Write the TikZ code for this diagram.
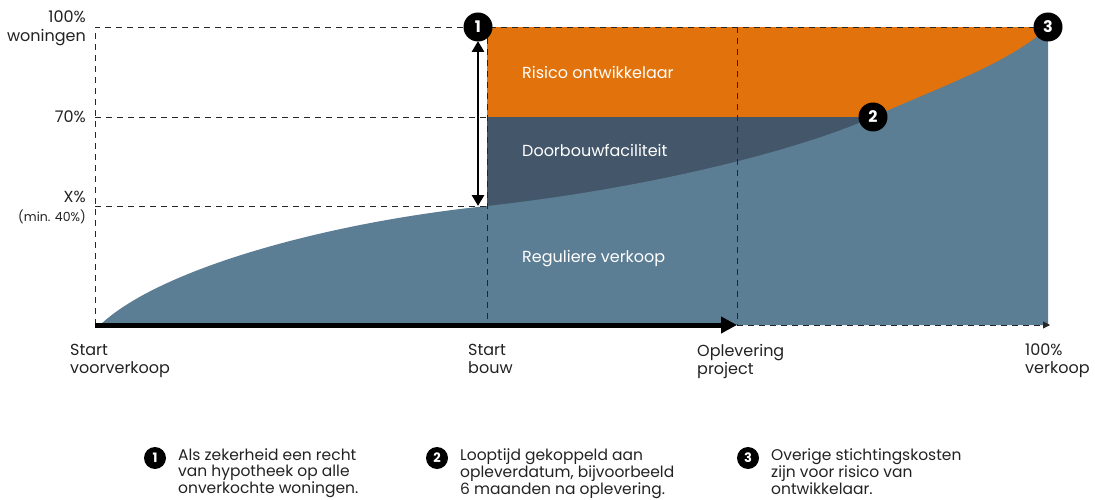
\documentclass[tikz,border=0pt]{standalone}
\usepackage{fontspec}
\setmainfont{Poppins}
\usetikzlibrary{arrows.meta}
\definecolor{orangeR}{HTML}{E2720B}
\definecolor{darkD}{HTML}{44576A}
\definecolor{blueB}{HTML}{5C7E95}
\definecolor{txt}{HTML}{222222}
\begin{document}
\begin{tikzpicture}[x=1pt,y=-1pt,
  guide/.style={draw=black!85, dash pattern=on 6pt off 5pt, line width=0.9pt},
  marker/.style={circle, fill=black, inner sep=0pt, minimum size=29pt, text=white, font=\fontsize{16}{16}\selectfont\bfseries},
  lmarker/.style={circle, fill=black, inner sep=0pt, minimum size=22pt, text=white, font=\fontsize{13}{13}\selectfont\bfseries},
  axlabel/.style={anchor=north west, align=left, inner sep=0pt, text=txt, font=\fontsize{16}{18}\selectfont},
  ylabel/.style={anchor=east, align=right, inner sep=0pt, text=txt, font=\fontsize{16}{19}\selectfont},
  area/.style={text=white, anchor=west, inner sep=0pt, font=\fontsize{16}{16}\selectfont},
  legend/.style={anchor=north west, align=left, inner sep=0pt, text=txt, font=\fontsize{15.5}{15.5}\selectfont}
]
\useasboundingbox (0,0) rectangle (1095,500);
% fills
\fill[orangeR] (487,27) rectangle (1048,200);
\fill[darkD] (487,117) rectangle (873,325);
\fill[blueB] (100,325) .. controls (160,268) and (330,222) .. (487,206)
  .. controls (650,188) and (800,150) .. (873,117)
  .. controls (940,87) and (1012,62) .. (1048,27) -- (1048,325) -- cycle;
% guides
\coordinate (tl) at (95,27);
\coordinate (bl) at (95,325);
\coordinate (t3) at (1048,27);
\draw[guide] (bl) -- (tl) -- (t3);
\draw[guide] (95,117) -- (487,117);
\draw[guide] (95,206) -- (487,206);
\draw[guide] (487,27) -- (487,325);
\draw[guide] (737,27) -- (737,325);
% axis
\coordinate (ax0) at (95,325);
\coordinate (ax1) at (737,325);
\coordinate (ax2) at (1050,325);
\draw[line width=5pt, -{Triangle[length=16pt,width=16pt]}] (ax0) -- (ax1);
\draw[guide, -{Triangle[length=7pt,width=7pt]}, dash pattern=on 6pt off 5pt] (ax1) -- (ax2);
% double arrow
\coordinate (da1) at (478,41);
\coordinate (da2) at (478,206);
\draw[line width=2.8pt, {Triangle[length=11pt,width=12pt]}-{Triangle[length=11pt,width=12pt]}] (da1) -- (da2);
% markers
\node[marker] (m1) at (478,27) {1};
\node[marker] (m2) at (873,117) {2};
\node[marker] (m3) at (1048,27) {3};
% area labels
\node[area] (ra) at (522,72) {Risico ontwikkelaar};
\node[area] (db) at (522,150) {Doorbouwfaciliteit};
\node[area] (rv) at (522,259) {Reguliere verkoop};
% y labels
\node[ylabel] (y100) at (86,28) {100\%\\woningen};
\node[ylabel] (y70) at (86,117) {70\%};
\node[ylabel] (yx) at (86,207) {X\%\\{\fontsize{12.5}{14}\selectfont (min. 40\%)}};
% x labels
\node[axlabel] (x1) at (70,344) {Start\\voorverkoop};
\node[axlabel] (x2) at (468,344) {Start\\bouw};
\node[axlabel] (x3) at (697,344) {Oplevering\\project};
\node[axlabel] (x4) at (1025,344) {100\%\\verkoop};
% legend
\node[lmarker] (l1) at (155,458) {1};
\node[legend] (t1) at (178,449) {Als zekerheid een recht\\van hypotheek op alle\\onverkochte woningen.};
\node[lmarker] (l2) at (437,458) {2};
\node[legend] (t2) at (460,449) {Looptijd gekoppeld aan\\opleverdatum, bijvoorbeeld\\6 maanden na oplevering.};
\node[lmarker] (l3) at (748,458) {3};
\node[legend] (t3t) at (771,449) {Overige stichtingskosten\\zijn voor risico van\\ontwikkelaar.};
\end{tikzpicture}
\end{document}
